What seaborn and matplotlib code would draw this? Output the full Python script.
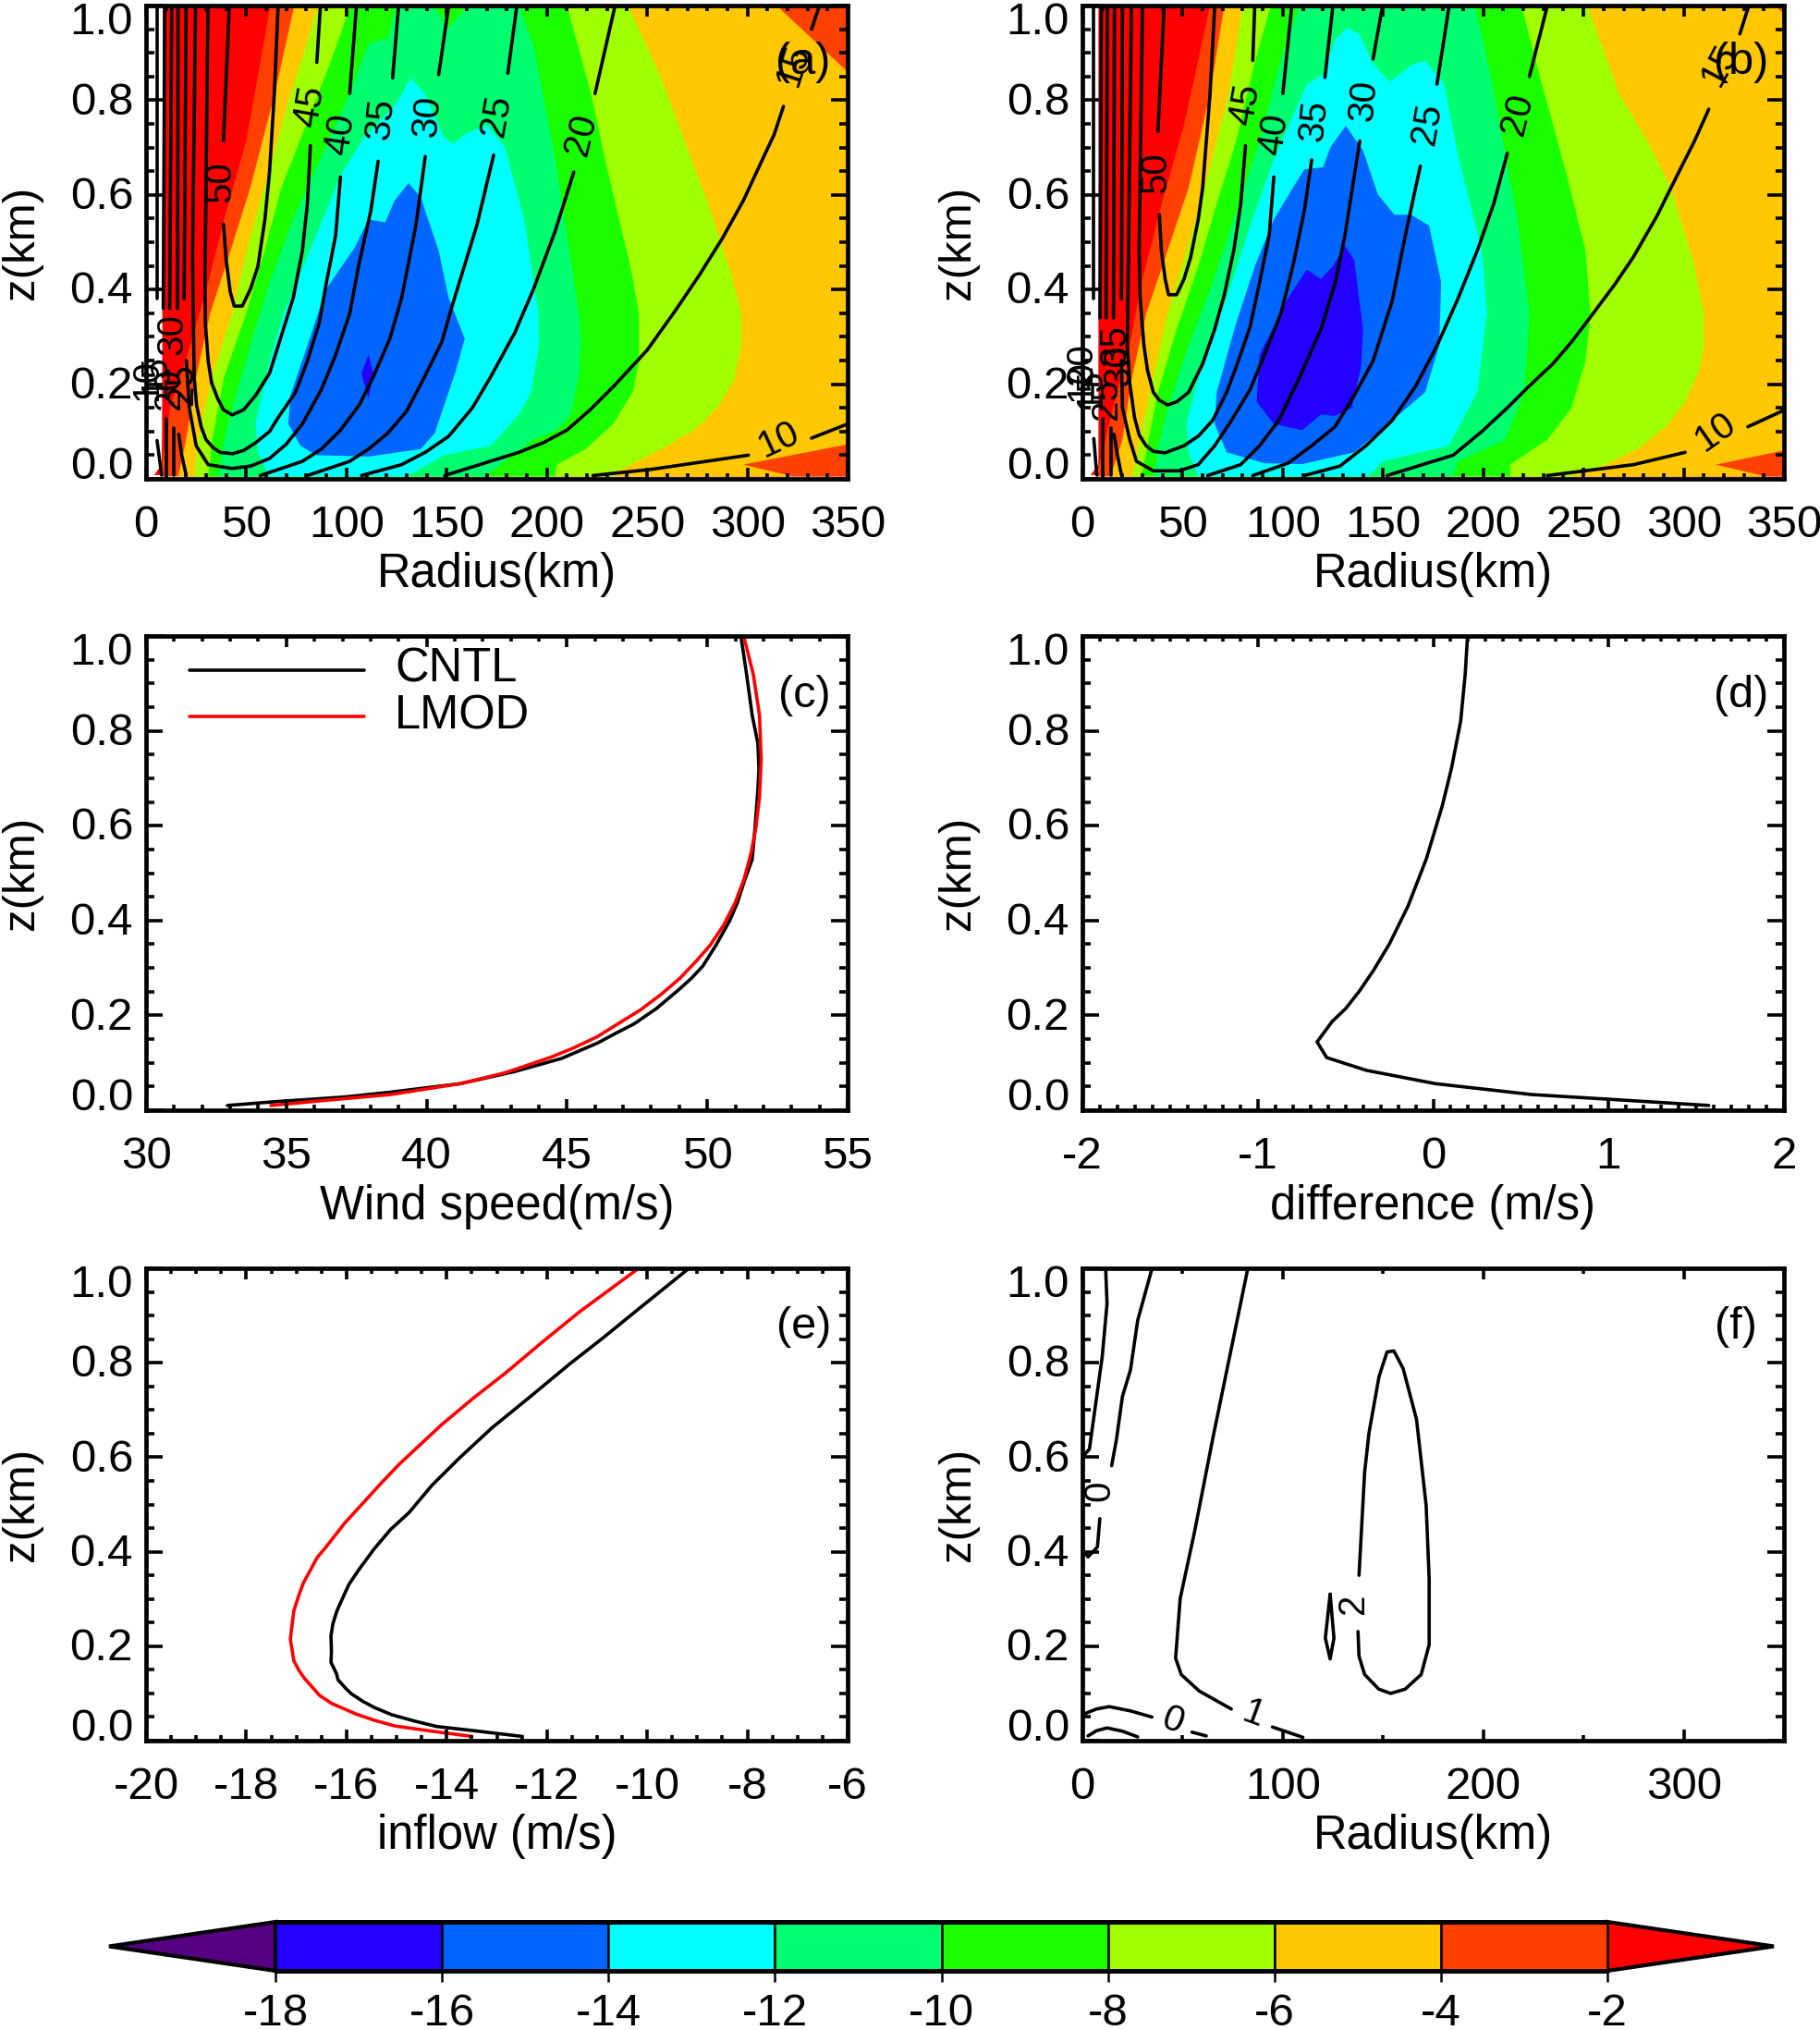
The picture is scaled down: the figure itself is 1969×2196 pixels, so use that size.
# Six panel figure: tangential wind / inflow cross sections and profiles
import matplotlib
matplotlib.use('Agg')
import matplotlib.pyplot as plt
import seaborn as sns
from matplotlib.ticker import MultipleLocator

# ------------------------------------------------------------
# Colour levels
# ------------------------------------------------------------
cbar_levels = [-18, -16, -14, -12, -10, -8, -6, -4, -2]
below_colour = '#550080'
level_colours = ['#2400FF', '#0066FF', '#00FFFF', '#00FF70', '#19FF00',
                 '#A0FF00', '#FFC800', '#FF4000']
above_colour = '#FF0000'

# ------------------------------------------------------------
# Panel a: shaded regions, (radius, z), value below the level
# ------------------------------------------------------------
a_above = ([8.5, 8.0, 7.8, 4, 350, 350], [1, .1, .03, .008, .005, 1])
a_lt2 = ([62, 50, 39, 31, 22, 12, 7, 350, 350], [1, .714, .55, .415, .28, .15, .005, .005, 1])
a_lt4 = ([74, 64, 52, 42, 32, 25, 20, 16, 323, 298, 350, 350, 314.6],
         [1, .81, .615, .48, .35, .216, .083, .005, .005, .03, .073, .86, 1])
a_lt6 = ([86, 72, 59, 50, 43, 33, 26, 24, 233, 236, 257, 273.4, 285, 293.4, 297, 297, 292.2, 280.5, 268.7, 257, 240.5],
         [1, .81, .615, .48, .35, .216, .083, .005, .005, .017, .063, .103, .15, .209, .282, .349, .429, .581, .714, .847, 1])
a_lt8 = ([102, 92, 80, 67.5, 59, 50, 39, 33, 31, 204, 205, 219.3, 233, 242.8, 246, 246, 241.6, 236, 228.7, 222, 210],
         [1, .88, .75, .615, .48, .35, .216, .083, .005, .005, .03, .063, .116, .183, .249, .349, .449, .548, .681, .814, 1])
a_lt10 = ([125, 120.5, 111, 101.6, 87.5, 73.4, 61.6, 52, 43, 39, 36, 169, 193, 205, 212, 216, 217, 216,
           210, 204, 193.4, 186, 160.5, 151, 143],
          [1, .93, .92, .814, .681, .548, .415, .282, .15, .083, .005, .005, .083, .103, .136, .216, .296, .349,
           .515, .681, .914, 1, 1, .953, 1])
a_lt12 = ([132, 125, 108.7, 97, 83, 68.7, 61.6, 54.6, 55.8, 61.6, 130, 148.7, 172, 186, 192, 196, 195.8,
           188.7, 179, 170, 159, 153.4, 148.7, 139],
          [.847, .794, .721, .641, .495, .349, .249, .116, .056, .005, .005, .05, .07, .136, .183, .282,
           .349, .548, .701, .748, .728, .708, .721, .814])
a_lt14 = ([131, 124, 119.3, 111, 104, 90, 80.5, 72, 71, 77, 85, 111, 137, 144, 154.6, 159, 151, 146, 137],
          [.625, .588, .542, .548, .488, .402, .282, .176, .116, .07, .05, .047, .063, .096, .229,
           .296, .382, .482, .595])
a_lt16 = ([111, 107.5, 111, 113.4], [.262, .223, .169, .223])

# Panel a: contour line pieces, broken at the labels
a_c10 = [([223, 252, 300.5], [.007, .02, .05]), ([332, 350], [.086, .116])]
a_c15 = [([149, 186, 198, 210, 221.6, 233.4, 250, 264, 275.8, 287.5, 298, 306, 313.4, 318],
          [.007, .056, .076, .103, .146, .196, .272, .355, .429, .508, .588, .661, .728, .787]),
         ([332, 336], [.95, 1])]
a_c20 = [([107.5, 127.5, 139.3, 151, 162.8, 172, 184, 193.4, 204, 213.4],
          [.007, .03, .056, .09, .15, .216, .309, .402, .522, .648]),
         ([224, 234], [.814, 1])]
a_c25 = [([80.5, 101.6, 111, 120.5, 130, 139, 147.5, 153.4, 165, 173.4],
          [.007, .037, .063, .096, .143, .216, .289, .375, .535, .684]),
         ([180.5, 185], [.857, 1])]
a_c30 = [([57, 78, 87.5, 97, 106.4, 113.4, 121.6, 127.5, 134.6, 139.3],
          [.007, .037, .063, .103, .156, .216, .296, .382, .535, .681]),
         ([146, 151], [.854, 1])]
a_c35 = [([115.8, 112.2, 106, 101.6, 94.6, 87.5, 78, 69.9, 61.6, 52.2, 43, 31, 25, 21.6, 20.1],
          [.671, .568, .449, .349, .262, .189, .116, .073, .043, .027, .022, .03, .07, .15, .25]),
         ([123, 126], [.847, 1]), ([19, 20], [.38, 1])]
a_c40 = [([97, 94.6, 90, 86.4, 80.5, 74.6, 66, 61.6, 54.6, 48.7, 43, 37, 33.4, 29.9, 27.5, 25.2, 24, 23.2, 24.7],
          [.638, .515, .415, .329, .249, .183, .13, .1, .076, .06, .053, .056, .066, .083, .11, .156, .216, .465, 1]),
         ([101.6, 105], [.814, 1])]
a_c45 = [([82, 80.5, 78, 73.4, 66, 61.6, 54.6, 48.7, 43, 38.6, 35.8, 32.7, 31, 29.6, 29.4, 30.9],
          [.704, .581, .482, .382, .282, .223, .176, .146, .135, .146, .169, .203, .249, .329, .415, 1]),
         ([85.2, 87], [.88, 1])]
a_c50 = [([38.6, 40, 42, 44, 48, 52.2, 55.8, 59.3, 61.6, 64, 65.9],
          [.538, .462, .395, .365, .365, .402, .449, .548, .648, .814, 1]),
         ([38.6, 41.6], [.714, 1])]
a_wall = [([20, 17.8, 16.3], [.008, .05, .094]), ([15.7, 16], [.36, 1]),
          ([14, 14], [.008, .107]), ([11.8, 12.8], [.36, 1]),
          ([10.1, 10.1], [.008, .126]), ([8.6, 9.3], [.36, 1]),
          ([7.8, 5.5], [.008, .081]), ([5.5, 5.5], [.38, 1])]
a_text = ['50', '45', '40', '35', '30', '25', '20', '15', '10', '30', '10', '15', '20', '25']
a_text_r = [37, 81.6, 97, 117, 140.5, 174.6, 217, 323, 315.8, 13.2, .2, 4.7, 11.7, 17.8]
a_text_z = [.628, .787, .728, .761, .767, .767, .728, .874, .083, .305, .21, .22, .19, .2]
a_text_rot = [90, 80, 82, 84, 85, 80, 76, 72, 25, 90, 90, 90, 90, 90]

# ------------------------------------------------------------
# Panel b
# ------------------------------------------------------------
b_above = ([8.0, 8.0, 4.1, 350, 350], [1, .03, .008, .005, 1])
b_lt2 = ([63.7, 50.7, 40, 29.5, 23.6, 15.3, 7, 350, 350], [1, .748, .588, .415, .282, .15, .005, .005, 1])
b_lt4 = ([70.8, 63.7, 53, 42.5, 31.8, 24.8, 20, 14, 341, 316, 350, 350, 345.5],
         [1, .814, .615, .482, .349, .216, .083, .005, .005, .03, .06, .983, 1])
b_lt6 = ([80, 73, 61, 52, 42.5, 35.4, 27, 24.8, 243, 260.6, 277, 291.3, 300.7, 307.8, 310, 310, 305.4, 293.6, 281.8, 267.7, 252],
         [1, .814, .615, .482, .349, .216, .05, .005, .005, .03, .063, .11, .163, .229, .282, .349, .449, .615, .714, .814, 1])
b_lt8 = ([94, 86, 76.7, 67, 57.8, 47, 37.7, 33, 29.5, 213.4, 213.4, 232, 244, 251, 253.5, 251, 241.7, 227.6, 219],
         [1, .88, .714, .581, .449, .316, .183, .083, .005, .005, .03, .083, .15, .249, .349, .482, .641, .86, 1])
b_lt10 = ([108.5, 100, 88.4, 75.5, 65, 53, 42.5, 37.7, 35.4, 185, 187.5, 211, 220.5, 223, 217, 204, 195.8],
          [1, .9, .714, .548, .415, .282, .15, .063, .005, .005, .037, .083, .183, .349, .548, .847, 1])
b_lt12 = ([132, 126, 120, 112, 105, 95.5, 83.7, 72, 60, 52, 53, 57.8, 142.7, 149.8, 182.8, 197, 201.7,
           199.3, 187.5, 180.4, 171, 164, 153.3, 145, 138],
          [.953, .927, .854, .834, .767, .674, .535, .382, .249, .116, .056, .005, .005, .037, .07, .183,
           .349, .482, .681, .834, .884, .874, .839, .877, .94])
b_lt14 = ([131.4, 123.8, 120, 110.8, 105, 95.5, 86, 76.7, 67, 66, 72, 90.8, 109.7, 135.6, 154.5, 171, 178,
           179, 173, 164, 155.7, 147.4, 140],
          [.746, .701, .658, .654, .615, .548, .449, .329, .183, .116, .056, .033, .031, .056, .123, .183,
           .282, .415, .535, .558, .558, .601, .694])
b_lt16 = ([131, 125, 119, 112, 102.6, 95.5, 88.4, 87, 95.5, 109.7, 119, 126, 134.4, 139, 140, 138, 135.6],
          [.492, .449, .422, .442, .382, .322, .262, .163, .116, .103, .136, .133, .15, .236, .316, .382, .462])

b_c10 = [([232, 275, 300.7], [.007, .03, .056]), ([332, 349], [.11, .143])]
b_c15 = [([152, 185, 199.3, 212, 222.9, 234.7, 244, 253.5, 265.3, 274.8, 286.6, 296, 305.4, 312.5],
          [.007, .05, .1, .15, .196, .243, .289, .342, .409, .468, .555, .635, .714, .781]),
         ([328, 332.5], [.94, 1])]
b_c20 = [([110.8, 128.5, 141.5, 154.5, 166.3, 177, 187.5, 197, 205.2, 212],
          [.007, .027, .07, .123, .196, .282, .382, .482, .581, .688]),
         ([223, 232], [.85, 1])]
b_c25 = [([85, 102.6, 114.4, 126, 135.6, 145, 154.5, 161.5, 168.6],
          [.007, .033, .07, .11, .176, .249, .375, .522, .661]),
         ([176.9, 183], [.834, 1])]
b_c30 = [([62.5, 79, 88.4, 97.9, 108.5, 119, 126.2, 131, 138.4],
          [.007, .03, .07, .123, .216, .316, .415, .515, .714]),
         ([145, 149.8], [.887, 1])]
b_c35 = [([114.4, 110.8, 105, 99, 90.8, 83.7, 74.3, 66, 57.8, 48.3, 35.4, 27, 23.6, 20, 19.5],
          [.674, .568, .449, .349, .262, .189, .123, .07, .03, .017, .017, .037, .083, .15, .25]),
         ([121, 125], [.848, 1]), ([19.5, 20], [.38, 1])]
b_c40 = [([95.5, 93.2, 88.4, 83.7, 77.8, 72, 64.9, 57.8, 50.7, 41.3, 35.4, 31.8, 28.3, 26, 23.6, 22.4, 23, 24.5],
          [.638, .515, .415, .322, .249, .183, .123, .09, .07, .055, .058, .07, .093, .13, .203, .282, .47, 1]),
         ([100, 104.5], [.814, 1])]
b_c45 = [([81.4, 79, 75.5, 70.8, 66, 60, 53, 47.2, 42.5, 38.4, 35.4, 32.5, 30.7, 28.8, 28.3, 30],
          [.704, .581, .482, .389, .316, .243, .183, .163, .156, .166, .183, .229, .282, .382, .482, 1]),
         ([85, 86], [.884, 1])]
b_c50 = [([38.4, 39.4, 41.3, 43, 47, 50.7, 54, 57.8, 60, 63.7, 66],
          [.558, .482, .422, .389, .389, .422, .468, .548, .615, .814, 1]),
         ([37.7, 40.8], [.734, 1])]
b_wall = [([19.5, 17.5, 15.8], [.008, .05, .094]), ([15.5, 16], [.34, 1]),
          ([14.1, 14.1], [.008, .107]), ([11.8, 12.5], [.34, 1]),
          ([10.3, 10.3], [.008, .126]), ([8.8, 9.5], [.34, 1]),
          ([7.2, 5.7], [.008, .085]), ([5.7, 5.7], [.38, 1])]
b_text = ['50', '45', '40', '35', '30', '25', '20', '15', '10', '35', '30', '25', '20', '15', '10']
b_text_r = [36.6, 81.4, 95.5, 115.6, 140.3, 172, 217, 318, 316, 16.4, 18, 11.8, -.5, 4.1, -.5]
b_text_z = [.648, .79, .728, .757, .8, .75, .771, .874, .1, .283, .24, .169, .243, .191, .208]
b_text_rot = [90, 80, 82, 84, 85, 80, 76, 62, 35, 90, 90, 90, 90, 90, 90]

# ------------------------------------------------------------
# Panels c, d, e: profiles
# ------------------------------------------------------------
c_cntl_v = [32.9, 34.6, 37.1, 38.7, 41.2, 43.1, 44.8, 46.1, 46.73, 47.39, 48.2, 49, 49.43, 49.84, 50.3,
            50.8, 51.07, 51.32, 51.6, 51.7, 51.8, 51.84, 51.8, 51.6, 51.4, 51.2]
c_cntl_z = [.01, .018, .028, .038, .056, .081, .109, .142, .162, .182, .215, .255, .278, .304, .347,
            .4, .437, .483, .529, .595, .675, .721, .774, .833, .919, .999]
c_lmod_v = [34.45, 36.25, 38.7, 41.2, 42.8, 44.44, 45.26, 46.08, 46.73, 47.63, 48.37, 49.02, 49.6, 50.09,
            50.58, 50.99, 51.32, 51.56, 51.73, 51.86, 51.92, 51.86, 51.64, 51.3]
c_lmod_z = [.01, .02, .033, .056, .079, .112, .132, .155, .179, .212, .245, .278, .314, .347,
            .39, .437, .489, .542, .595, .661, .74, .833, .919, .999]
d_diff = [.196, .183, .157, .105, .052, -.039, -.144, -.249, -.34, -.419, -.497, -.576, -.662, -.607,
          -.38, .013, .563, 1.008, 1.571]
d_z = [1, .921, .821, .722, .642, .53, .43, .351, .295, .252, .215, .187, .144, .111, .084, .056,
       .033, .023, .01]
e_cntl_u = [-12.5, -13.37, -14.2, -14.66, -15.1, -15.44, -15.67, -15.9, -16, -16.17, -16.2, -16.31, -16.3,
            -16.31, -16.27, -16.19, -16.08, -15.95, -15.76, -15.44, -15.12, -14.75, -14.3, -13.74, -13.1,
            -12.37, -11.54, -10.9, -10.17, -9.2]
e_cntl_z = [.009, .02, .03, .042, .055, .07, .083, .099, .109, .129, .142, .166, .189, .222, .248, .275,
            .301, .331, .361, .407, .447, .483, .54, .599, .662, .725, .798, .851, .914, .997]
e_lmod_u = [-13.5, -14.29, -15.03, -15.44, -15.8, -16.3, -16.54, -16.68, -16.84, -16.95, -17.05, -17.09,
            -17.12, -17.09, -17.05, -16.95, -16.86, -16.72, -16.59, -16.4, -16.04, -15.67, -15.3, -14.94,
            -14.1, -13.47, -12.83, -12.09, -11.36, -10.17]
e_lmod_z = [.009, .02, .031, .043, .056, .079, .096, .113, .132, .149, .169, .195, .215, .242, .275, .308,
            .334, .361, .387, .411, .46, .503, .546, .586, .669, .725, .778, .844, .907, 1]

# ------------------------------------------------------------
# Panel f: difference contours
# ------------------------------------------------------------
f_lines = [([11.6, 12.3, 9.9, 3.5, .5], [1, .925, .813, .617, .603]),
           ([34.7, 27.6, 24, 20, 17, 14.6], [.999, .89, .785, .729, .638, .582]),
           ([8.7, 7.5, 2.8, .6], [.47, .41, .389, .402]),
           ([82.5, 65.3, 55.9, 48.8, 46.5, 49.3, 58.3, 74.3], [.999, .645, .441, .301, .175, .14, .105, .067]),
           ([94.8, 110], [.029, .007]),
           ([138, 140.8, 143, 148, 152, 155.4, 160, 166.7, 171.5, 173, 173, 169, 161, 153.8, 147.9,
             140.8, 138, 137.5],
            [.35, .568, .652, .771, .823, .825, .788, .68, .498, .343, .203, .14, .109, .1, .109, .14, .179, .231]),
           ([123.6, 121.2, 123.6, 125.5, 123.6], [.31, .217, .173, .217, .31]),
           ([.5, 7, 13.4, 24, 34.7], [.056, .067, .072, .063, .05]),
           ([54.7, 61.8], [.018, .01]),
           ([2.8, 7, 12.3, 20, 27.6], [.01, .021, .027, .02, .008])]
f_text = ['0', '0', '1', '2']
f_text_r = [8.7, 45, 85.4, 135]
f_text_z = [.529, .042, .056, .29]
f_text_rot = [90, -20, -20, 90]

z_ticks = [0.0, 0.2, 0.4, 0.6, 0.8, 1.0]

# ------------------------------------------------------------
# Figure setup
# ------------------------------------------------------------
sns.set_theme(style='ticks')
plt.rcParams['font.family'] = ['Liberation Sans', 'DejaVu Sans']
plt.rcParams['font.size'] = 36
for key in ['text.color', 'axes.labelcolor', 'xtick.color', 'ytick.color', 'axes.edgecolor']:
    plt.rcParams[key] = 'black'

W, H = 1969, 2196
fig = plt.figure(figsize=(W / 100, H / 100), dpi=100, facecolor='white')


def make_axes(left, right, top, bottom):
    return fig.add_axes([left / W, 1 - bottom / H, (right - left) / W, (bottom - top) / H])


def draw_line(ax, r, z, colour='black', lw=2.6):
    sns.lineplot(x=r, y=z, ax=ax, sort=False, estimator=None, color=colour,
                 linewidth=lw, legend=False)


def style_axes(ax, xlim, xmajor, xminor, xlabels, xlabel, tag, tag_x, tag_y):
    ax.set_xlim(*xlim)
    ax.set_ylim(0, 1)
    ax.set_xticks(xmajor)
    ax.set_xticklabels(xlabels, fontsize=35.5)
    ax.xaxis.set_minor_locator(MultipleLocator(xminor))
    ax.yaxis.set_minor_locator(MultipleLocator(0.05))
    ax.set_yticks(z_ticks)
    ax.set_yticklabels([])
    ax.tick_params(axis='x', which='major', direction='in', top=True, bottom=True, length=8.6, width=2.6, pad=20)
    ax.tick_params(axis='x', which='minor', direction='in', top=True, bottom=True, length=4.3, width=2.6)
    ax.tick_params(axis='y', which='major', direction='in', left=True, right=True, length=13, width=2.6)
    ax.tick_params(axis='y', which='minor', direction='in', left=True, right=True, length=6.5, width=2.6)
    ax.set_axisbelow(False)
    for side in ax.spines.values():
        side.set_linewidth(3.4)
        side.set_zorder(5)
    # end labels sit inside the axis range, as the original does
    for z in z_ticks:
        dy = -13 if z == 1.0 else (9 if z == 0.0 else -2)
        ax.annotate(f'{z:.1f}', xy=(0, z), xycoords=ax.get_yaxis_transform(), xytext=(-10, dy),
                    textcoords='offset points', ha='right', va='center', fontsize=35.5)
    ax.set_xlabel(xlabel, fontsize=36.5, va='center')
    ax.xaxis.set_label_coords(0.5, -104 / 512)
    ax.set_ylabel('z(km)', fontsize=35.5, va='center')
    ax.yaxis.set_label_coords(-0.177, 0.5)
    ax.text(tag_x, tag_y, tag, transform=ax.transAxes, ha='center', va='center', fontsize=35)


def shade_panel(ax, above, regions):
    # painted from the weakest region inwards
    ax.fill(above[0], above[1], color=above_colour, linewidth=0, zorder=1)
    colours = level_colours[::-1]
    for region, colour in zip(regions, colours):
        ax.fill(region[0], region[1], color=colour, linewidth=0, zorder=1)


def contour_panel(ax, pieces, labels, label_r, label_z, label_rot):
    for r, z in pieces:
        draw_line(ax, r, z)
    for s, r, z, rot in zip(labels, label_r, label_z, label_rot):
        ax.text(r, z, s, rotation=rot, ha='center', va='center', fontsize=29, clip_on=False,
                rotation_mode='anchor')


radius_ticks = [0, 50, 100, 150, 200, 250, 300, 350]
radius_labels = [str(t) for t in radius_ticks]

# Panel a
ax_a = make_axes(158, 917, 6, 518)
shade_panel(ax_a, a_above, [a_lt2, a_lt4, a_lt6, a_lt8, a_lt10, a_lt12, a_lt14, a_lt16])
contour_panel(ax_a, a_c10 + a_c15 + a_c20 + a_c25 + a_c30 + a_c35 + a_c40 + a_c45 + a_c50 + a_wall,
              a_text, a_text_r, a_text_z, a_text_rot)
style_axes(ax_a, (0, 350), radius_ticks, 10, radius_labels, 'Radius(km)', '(a)', .937, .88)

# Panel b
ax_b = make_axes(1171, 1930, 6, 518)
shade_panel(ax_b, b_above, [b_lt2, b_lt4, b_lt6, b_lt8, b_lt10, b_lt12, b_lt14, b_lt16])
contour_panel(ax_b, b_c10 + b_c15 + b_c20 + b_c25 + b_c30 + b_c35 + b_c40 + b_c45 + b_c50 + b_wall,
              b_text, b_text_r, b_text_z, b_text_rot)
style_axes(ax_b, (0, 350), radius_ticks, 10, radius_labels, 'Radius(km)', '(b)', .939, .88)

# Panel c
ax_c = make_axes(158, 917, 688, 1201)
draw_line(ax_c, c_cntl_v, c_cntl_z)
draw_line(ax_c, c_lmod_v, c_lmod_z, colour='red')
draw_line(ax_c, [31.54, 37.77], [.928, .928])
draw_line(ax_c, [31.54, 37.77], [.83, .83], colour='red')
ax_c.text(38.87, .929, 'CNTL', ha='left', va='center', fontsize=36.5)
ax_c.text(38.87, .831, 'LMOD', ha='left', va='center', fontsize=36.5)
style_axes(ax_c, (30, 55), [30, 35, 40, 45, 50, 55], 1, ['30', '35', '40', '45', '50', '55'],
           'Wind speed(m/s)', '(c)', .938, .875)

# Panel d
ax_d = make_axes(1171, 1930, 688, 1201)
draw_line(ax_d, d_diff, d_z)
style_axes(ax_d, (-2, 2), [-2, -1, 0, 1, 2], 0.1, ['-2', '-1', '0', '1', '2'],
           'difference (m/s)', '(d)', .939, .875)

# Panel e
ax_e = make_axes(158, 917, 1372, 1883)
draw_line(ax_e, e_cntl_u, e_cntl_z)
draw_line(ax_e, e_lmod_u, e_lmod_z, colour='red')
style_axes(ax_e, (-20, -6), [-20, -18, -16, -14, -12, -10, -8, -6], 0.5,
           ['-20', '-18', '-16', '-14', '-12', '-10', '-8', '-6'], 'inflow (m/s)', '(e)', .938, .876)

# Panel f
ax_f = make_axes(1171, 1930, 1372, 1883)
contour_panel(ax_f, f_lines, f_text, f_text_r, f_text_z, f_text_rot)
style_axes(ax_f, (0, 350), [0, 100, 200, 300], 50, ['0', '100', '200', '300'],
           'Radius(km)', '(f)', .931, .876)

# Colour bar with pointed ends
ax_cb = make_axes(118, 1919, 2079, 2132)
ax_cb.set_xlim(-20, 0)
ax_cb.set_ylim(0, 1)
ax_cb.patch.set_visible(False)
for side in ax_cb.spines.values():
    side.set_visible(False)
ax_cb.fill([cbar_levels[0], cbar_levels[0] - 2, cbar_levels[0]], [0, .5, 1], facecolor=below_colour,
           edgecolor='black', linewidth=3, clip_on=False)
ax_cb.fill([cbar_levels[-1], cbar_levels[-1] + 2, cbar_levels[-1]], [0, .5, 1], facecolor=above_colour,
           edgecolor='black', linewidth=3, clip_on=False)
for lo, hi, colour in zip(cbar_levels[:-1], cbar_levels[1:], level_colours):
    ax_cb.fill([lo, hi, hi, lo], [0, 0, 1, 1], facecolor=colour, edgecolor='black', linewidth=1.8, clip_on=False)
ax_cb.plot([cbar_levels[0], cbar_levels[-1]], [0, 0], color='black', linewidth=3.6, clip_on=False)
ax_cb.plot([cbar_levels[0], cbar_levels[-1]], [1, 1], color='black', linewidth=3.6, clip_on=False)
ax_cb.set_xticks(cbar_levels)
ax_cb.set_xticklabels([str(v) for v in cbar_levels], fontsize=35.5)
ax_cb.set_yticks([])
ax_cb.tick_params(axis='x', direction='out', length=8.6, width=1.8, pad=9)

fig.savefig('out.png', dpi=100)
